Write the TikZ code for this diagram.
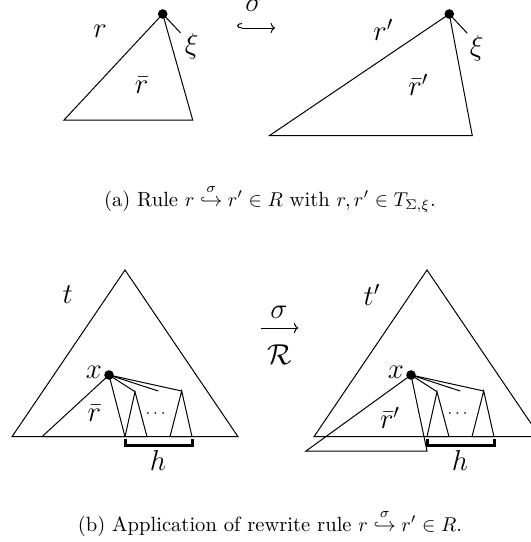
\documentclass[tikz,border=0pt]{standalone}
\usepackage{amsmath}
\usepackage{tikz}
\usetikzlibrary{arrows.meta,positioning}
\tikzset{
  dot/.style={circle, fill=black, minimum size=4.8pt, inner sep=0pt},
  edge/.style={line width=0.5pt, line join=miter},
  bracket/.style={line width=1.5pt},
  lbl/.style={inner sep=0pt, font=\fontsize{14}{16}\selectfont},
  dotslbl/.style={inner sep=0pt, font=\fontsize{8}{9}\selectfont},
  caption/.style={inner sep=0pt, anchor=base, font=\fontsize{10.3}{12}\selectfont},
  arrow/.style={-{To[length=2.2pt,width=5pt]}, line width=0.5pt},
  hookarrow/.style={{Hooks[right,length=2.5pt,width=5pt]}-{To[length=2.2pt,width=5pt]}, line width=0.5pt}
}

\begin{document}
\begin{tikzpicture}[x=0.5pt, y=-0.5pt]
\useasboundingbox (0,0) rectangle (531,542);
% (a) rule r -> r'
\node[dot] (rroot) at (162.7,14) {};
\coordinate (rbl) at (64,120);
\coordinate (rbr) at (192.7,120);
\coordinate (rxi) at (180.7,33);
\draw[edge] (rroot.center) -- (rbl) -- (rbr) -- cycle;
\draw[edge] (rroot.center) -- (rxi);
\node[lbl] (rname) at (100,31.7) {$r$};
\node[lbl] (rxilbl) at (191.7,46.7) {$\xi$};
\node[lbl] (rbar) at (141.7,85) {$\bar r$};

\coordinate (hookL) at (237,28);
\coordinate (hookR) at (275,28);
\draw[hookarrow] (hookL) -- (hookR);
\node[lbl] (hooksig) at (254,5) {$\sigma$};

\node[dot] (sroot) at (449.3,14) {};
\coordinate (sbl) at (269.3,135.7);
\coordinate (sbr) at (472.3,135.7);
\coordinate (sxi) at (467.3,33.3);
\draw[edge] (sroot.center) -- (sbl) -- (sbr) -- cycle;
\draw[edge] (sroot.center) -- (sxi);
\node[lbl] (sname) at (383.3,30) {$r'$};
\node[lbl] (sxilbl) at (476.7,48) {$\xi$};
\node[lbl] (sbar) at (418.3,85) {$\bar r'$};

\node[caption] (capa) at (270,206) {(a) Rule $r \overset{\sigma}{\hookrightarrow} r' \in R$ with $r, r' \in T_{\Sigma,\xi}$.};

% (b) application in t
\coordinate (ttop) at (125,270);
\coordinate (tbl) at (12,436.7);
\coordinate (tbr) at (238,436.7);
\draw[edge] (tbl) -- (ttop) -- (tbr) -- cycle;
\node[dot] (tx) at (109,375) {};
\coordinate (trl) at (42,436.7);
\coordinate (trr) at (125,436.7);
\draw[edge] (tx.center) -- (trl) -- (trr) -- cycle;
\coordinate (ta) at (135,391.7);
\coordinate (tal) at (125,436.7);
\coordinate (tar) at (147,436.7);
\draw[edge] (tal) -- (ta) -- (tar) -- cycle;
\coordinate (tb) at (181.7,391);
\coordinate (tbL) at (170,436.7);
\coordinate (tbR) at (192,436.7);
\draw[edge] (tbL) -- (tb) -- (tbR) -- cycle;
\coordinate (tmid) at (158.3,391);
\draw[edge] (tx.center) -- (ta);
\draw[edge] (tx.center) -- (tmid);
\draw[edge] (tx.center) -- (tb);
\node[lbl] (tname) at (67.7,295) {$t$};
\node[lbl] (txlbl) at (94,372) {$x$};
\node[lbl] (tbar) at (94.3,413) {$\bar r$};
\node[dotslbl] (tdots) at (157,414) {$\cdots$};
\coordinate (thl) at (125,445);
\coordinate (thr) at (192,445);
\draw[bracket] ([yshift=3pt]thl) -- (thl) -- (thr) -- ([yshift=3pt]thr);
\node[lbl] (th) at (158,460) {$h$};

\coordinate (arrL) at (260.7,328);
\coordinate (arrR) at (298.3,328);
\draw[arrow] (arrL) -- (arrR);
\node[lbl] (arrsig) at (279,312) {$\sigma$};
\node[lbl] (arrR) at (280,355) {$\mathcal{R}$};

\coordinate (utop) at (427,270);
\coordinate (ubl) at (314,436.7);
\coordinate (ubr) at (540,436.7);
\draw[edge] (ubl) -- (utop) -- (ubr) -- cycle;
\node[dot] (ux) at (411,375) {};
\coordinate (url) at (306,451);
\coordinate (urr) at (427,451);
\draw[edge] (ux.center) -- (url) -- (urr) -- cycle;
\coordinate (ua) at (437,391.7);
\coordinate (ual) at (427,436.7);
\coordinate (uar) at (449,436.7);
\draw[edge] (ual) -- (ua) -- (uar) -- cycle;
\coordinate (ub) at (483.7,391);
\coordinate (ubL) at (472,436.7);
\coordinate (ubR) at (494,436.7);
\draw[edge] (ubL) -- (ub) -- (ubR) -- cycle;
\coordinate (umid) at (460.3,391);
\draw[edge] (ux.center) -- (ua);
\draw[edge] (ux.center) -- (umid);
\draw[edge] (ux.center) -- (ub);
\node[lbl] (uname) at (372,295) {$t'$};
\node[lbl] (uxlbl) at (396,372) {$x$};
\node[lbl] (ubar) at (390,418) {$\bar r'$};
\node[dotslbl] (udots) at (459,414) {$\cdots$};
\coordinate (uhl) at (427,445);
\coordinate (uhr) at (494,445);
\draw[bracket] ([yshift=3pt]uhl) -- (uhl) -- (uhr) -- ([yshift=3pt]uhr);
\node[lbl] (uh) at (460,460) {$h$};

\node[caption] (capb) at (270,531) {(b) Application of rewrite rule $r \overset{\sigma}{\hookrightarrow} r' \in R$.};
\end{tikzpicture}
\end{document}
